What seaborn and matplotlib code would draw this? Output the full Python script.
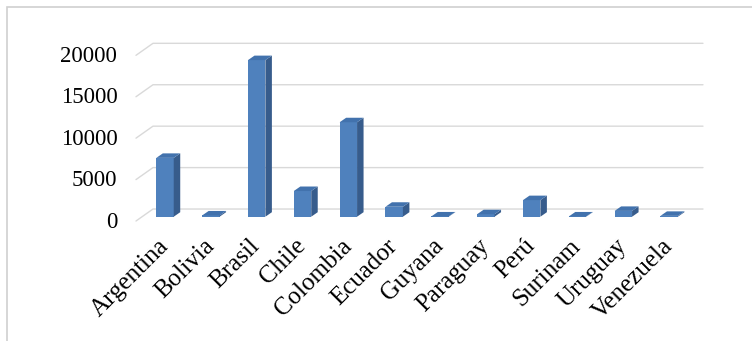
import matplotlib
matplotlib.use("Agg")
import matplotlib.pyplot as plt
import seaborn as sns
import numpy as np
import pandas as pd
from matplotlib.lines import Line2D
from matplotlib.patches import Polygon, Rectangle
from matplotlib.transforms import IdentityTransform, ScaledTranslation

countries = ["Argentina", "Bolivia", "Brasil", "Chile", "Colombia", "Ecuador",
             "Guyana", "Paraguay", "Perú", "Surinam", "Uruguay", "Venezuela"]
values = [7100, 150, 18900, 3100, 11400, 1200, 30, 300, 2000, 30, 700, 100]
yticks = [0, 5000, 10000, 15000, 20000]
ytick_labels = ["0", "5000", "10000", "15000", "20000"]

sns.set_theme(style="white")
plt.rcParams["font.family"] = ["Liberation Serif", "DejaVu Serif"]

W, H, DPI = 752, 341, 100
fig = plt.figure(figsize=(W / DPI, H / DPI), dpi=DPI)

# axes = plane of the bar fronts (pixel geometry)
ax_l, ax_r = 142.1, 692.1
ax_bot_top = 216.7           # y from top of value 0
ax_h = 165.7
ax = fig.add_axes([ax_l / W, (H - ax_bot_top) / H, (ax_r - ax_l) / W, ax_h / H])

df = pd.DataFrame({"country": countries, "value": values})
front_c = "#4F81BD"
side_c = "#375C8C"
top_c = "#4272AD"
grid_c = "#D9D9D9"

sns.barplot(data=df, x="country", y="value", color=front_c, saturation=1,
            width=0.38, ax=ax, zorder=2, linewidth=0)
ax.set_xlim(-0.5, len(countries) - 0.5)
ax.set_ylim(0, 20000)
for s in ax.spines.values():
    s.set_visible(False)
ax.set_xticks([])
ax.set_yticks([])
ax.set_xlabel("")
ax.set_ylabel("")
ax.patch.set_alpha(0)

# floor depth (px): front plane to back wall
DX, DY = 17.0, 12.0
fb = 0.36  # fraction of depth where bar fronts are
bdx, bdy = 6.5, 4.5  # bar depth

fig.canvas.draw()
T = ax.transData
x0, x1 = ax.get_xlim()
for v in yticks:
    pl = T.transform((x0, v))
    pr = T.transform((x1, v))
    front = pl + np.array([-fb * DX, -fb * DY])
    back_l = pl + np.array([(1 - fb) * DX, (1 - fb) * DY])
    back_r = pr + np.array([(1 - fb) * DX, (1 - fb) * DY])
    ln = Line2D([front[0], back_l[0], back_r[0]], [front[1], back_l[1], back_r[1]],
                transform=IdentityTransform(), color=grid_c, lw=1.0, zorder=0.5,
                clip_on=False)
    ax.add_artist(ln)

for p in ax.patches:
    x, w, h = p.get_x(), p.get_width(), p.get_height()
    br = T.transform((x + w, 0))
    tr = T.transform((x + w, h))
    tl = T.transform((x, h))
    off = np.array([bdx, bdy])
    side = Polygon([br, tr, tr + off, br + off], closed=True, transform=IdentityTransform(),
                   facecolor=side_c, edgecolor="none", zorder=2.1, clip_on=False)
    top = Polygon([tl, tr, tr + off, tl + off], closed=True, transform=IdentityTransform(),
                  facecolor=top_c, edgecolor="none", zorder=2.2, clip_on=False)
    ax.add_artist(side)
    ax.add_artist(top)

# y tick labels on front plane
ylab_tr = T + ScaledTranslation(-24.8 / DPI, -fb * DY / DPI - 1 / DPI, fig.dpi_scale_trans)
for v, lab in zip(yticks, ytick_labels):
    ax.text(x0, v, lab, transform=ylab_tr, ha="right", va="center",
            fontsize=16.5, color="black", clip_on=False)

# x labels
xlab_tr = T + ScaledTranslation(0 / DPI, -26 / DPI, fig.dpi_scale_trans)
for i, c in enumerate(countries):
    ax.text(i, 0, c, transform=xlab_tr, rotation=45, ha="right", va="center",
            rotation_mode="anchor", fontsize=18, color="black", clip_on=False)

# outer frame (partially cropped)
fig.add_artist(Rectangle((7 / W, -0.1), 1.2, (H - 7) / H + 0.1, transform=fig.transFigure,
                         facecolor="none", edgecolor="#D0D0D0", lw=1.2))

fig.savefig("out.png", dpi=DPI)
